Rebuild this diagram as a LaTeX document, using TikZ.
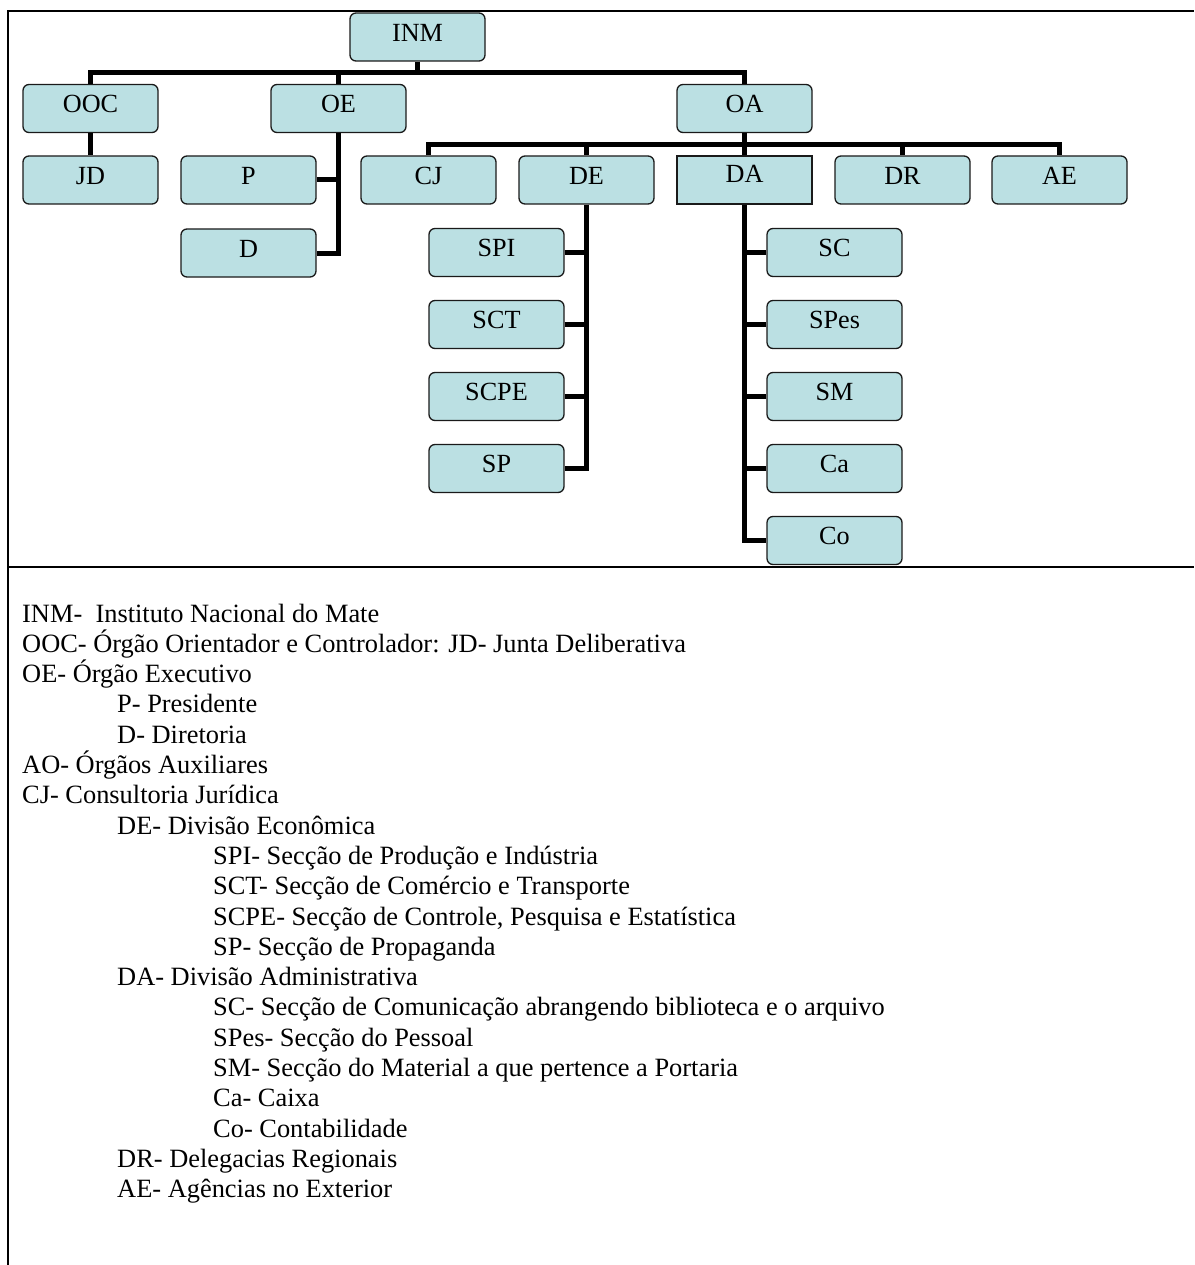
\documentclass[tikz,border=0pt]{standalone}
\usepackage{fontspec}
\setmainfont{Liberation Serif}
\definecolor{boxfill}{HTML}{BBE0E3}
\definecolor{boxline}{HTML}{1A1A1A}
\begin{document}
\begin{tikzpicture}[x=1pt,y=-1pt,
  orgbox/.style={draw=boxline, line width=1.3pt, fill=boxfill, rounded corners=6pt,
    minimum width=135pt, minimum height=48pt, inner sep=0pt,
    text height=18pt, text depth=9.7pt, font=\fontsize{26.2}{30}\selectfont},
  sqbox/.style={orgbox, sharp corners, text depth=13.7pt},
  conn/.style={line width=5pt, draw=black, line join=miter},
  frameline/.style={line width=2pt, draw=black},
  legtext/.style={inner sep=0pt, anchor=base west, font=\fontsize{26.4}{30}\selectfont}]
\useasboundingbox (0,0) rectangle (1194,1265);
% frame
\coordinate (ftl) at (8,11);
\coordinate (ftr) at (1194,11);
\coordinate (fbl) at (8,1265);
\coordinate (fsl) at (8,567);
\coordinate (fsr) at (1194,567);
\draw[frameline] (fbl) -- (ftl) -- (ftr);
\draw[frameline] (fsl) -- (fsr);
% boxes
\node[orgbox] (INM) at (417.5,37) {INM};
\node[orgbox] (OOC) at (90.5,108.5) {OOC};
\node[orgbox] (OE) at (338.5,108.5) {OE};
\node[orgbox] (OA) at (744.5,108.5) {OA};
\node[orgbox] (JD) at (90.5,180) {JD};
\node[orgbox] (P) at (248.5,180) {P};
\node[orgbox] (D) at (248.5,253) {D};
\node[orgbox] (CJ) at (428.5,180) {CJ};
\node[orgbox] (DE) at (586.5,180) {DE};
\node[sqbox] (DA) at (744.5,180) {DA};
\node[orgbox] (DR) at (902.5,180) {DR};
\node[orgbox] (AE) at (1059.5,180) {AE};
\node[orgbox] (SPI) at (496.5,252.5) {SPI};
\node[orgbox] (SCT) at (496.5,324.5) {SCT};
\node[orgbox] (SCPE) at (496.5,396.5) {SCPE};
\node[orgbox] (SP) at (496.5,468.5) {SP};
\node[orgbox] (SC) at (834.5,252.5) {SC};
\node[orgbox] (SPes) at (834.5,324.5) {SPes};
\node[orgbox] (SM) at (834.5,396.5) {SM};
\node[orgbox] (Ca) at (834.5,468.5) {Ca};
\node[orgbox] (Co) at (834.5,540.5) {Co};
% connectors
\coordinate (b1) at (417.5,72.5);
\coordinate (b2) at (744.5,145);
\draw[conn] (INM.south) -- (b1);
\draw[conn] (OOC.north) |- (b1) -| (OA.north);
\draw[conn] (b1 -| OE.north) -- (OE.north);
\draw[conn] (OOC.south) -- (JD.north);
\draw[conn] (OE.south) |- (D.east);
\draw[conn] (P.east) -- (P.east -| OE.south);
\draw[conn] (OA.south) -- (DA.north);
\draw[conn] (CJ.north) |- (b2) -| (AE.north);
\draw[conn] (b2 -| DE.north) -- (DE.north);
\draw[conn] (b2 -| DR.north) -- (DR.north);
\draw[conn] (DE.south) |- (SP.east);
\draw[conn] (SPI.east) -- (SPI.east -| DE.south);
\draw[conn] (SCT.east) -- (SCT.east -| DE.south);
\draw[conn] (SCPE.east) -- (SCPE.east -| DE.south);
\draw[conn] (DA.south) |- (Co.west);
\draw[conn] (SC.west) -- (SC.west -| DA.south);
\draw[conn] (SPes.west) -- (SPes.west -| DA.south);
\draw[conn] (SM.west) -- (SM.west -| DA.south);
\draw[conn] (Ca.west) -- (Ca.west -| DA.south);
% legend
\node[legtext] (l1) at (22,622) {INM-\hspace{0.5em}Instituto Nacional do Mate};
\node[legtext] (l2) at (22,652.3) {OOC- Órgão Orientador e Controlador: JD- Junta Deliberativa};
\node[legtext] (l3) at (22,682.6) {OE- Órgão Executivo};
\node[legtext] (l4) at (117,712.9) {P- Presidente};
\node[legtext] (l5) at (117,743.2) {D- Diretoria};
\node[legtext] (l6) at (22,773.5) {AO- Órgãos Auxiliares};
\node[legtext] (l7) at (22,803.8) {CJ- Consultoria Jurídica};
\node[legtext] (l8) at (117,834.1) {DE- Divisão Econômica};
\node[legtext] (l9) at (213,864.4) {SPI- Secção de Produção e Indústria};
\node[legtext] (l10) at (213,894.7) {SCT- Secção de Comércio e Transporte};
\node[legtext] (l11) at (213,925.0) {SCPE- Secção de Controle, Pesquisa e Estatística};
\node[legtext] (l12) at (213,955.3) {SP- Secção de Propaganda};
\node[legtext] (l13) at (117,985.6) {DA- Divisão Administrativa};
\node[legtext] (l14) at (213,1015.9) {SC- Secção de Comunicação abrangendo biblioteca e o arquivo};
\node[legtext] (l15) at (213,1046.2) {SPes- Secção do Pessoal};
\node[legtext] (l16) at (213,1076.5) {SM- Secção do Material a que pertence a Portaria};
\node[legtext] (l17) at (213,1106.8) {Ca- Caixa};
\node[legtext] (l18) at (213,1137.1) {Co- Contabilidade};
\node[legtext] (l19) at (117,1167.4) {DR- Delegacias Regionais};
\node[legtext] (l20) at (117,1197.7) {AE- Agências no Exterior};
\end{tikzpicture}
\end{document}
